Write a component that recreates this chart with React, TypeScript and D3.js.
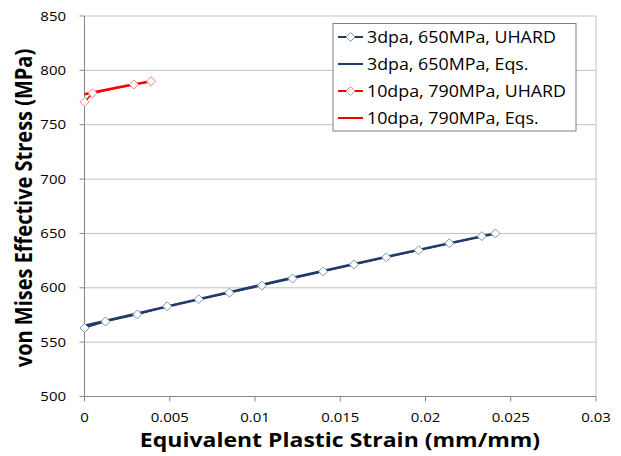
import React from "react";
import * as d3 from "d3";

// 3 dpa, 650 MPa
const blueUhardStrain = [0, 0.00123, 0.0031, 0.00485, 0.0067, 0.0085, 0.0104, 0.0122, 0.014, 0.0158, 0.0177, 0.0196, 0.0214, 0.0233, 0.0241];
const blueUhardStress = [563, 569, 575.5, 583, 589.5, 595.5, 602, 608.5, 615, 621.5, 628, 634.5, 641, 647.5, 650];
const blueEqsStrain = [0, 0.006, 0.012, 0.018, 0.0241];
const blueEqsStress = [565, 587, 608.5, 629.5, 650];

// 10 dpa, 790 MPa
const redUhardStrain = [0, 0.00047, 0.0029, 0.0039];
const redUhardStress = [771, 779, 787, 790];
const redEqsStrain = [0, 0.002, 0.0039];
const redEqsStress = [778, 784.5, 790];

const xTicks = [0, 0.005, 0.01, 0.015, 0.02, 0.025, 0.03];
const yTicks = [500, 550, 600, 650, 700, 750, 800, 850];

const legendLabels = ["3dpa, 650MPa, UHARD", "3dpa, 650MPa, Eqs.", "10dpa, 790MPa, UHARD", "10dpa, 790MPa, Eqs."];

const BLUE = "#1f3d6b";
const BLUE_MK = "#8094b4";
const RED = "#ff0000";
const RED_MK = "#ff8080";
const FONT = "'Open Sans', 'DejaVu Sans', sans-serif";
const SX = 1.15; // text in the source is a little stretched sideways

type Pt = [number, number];
const zip = (a: number[], b: number[]): Pt[] => a.map((v, i) => [v, b[i]]);

const Diamond = ({ x, y, stroke }: { x: number; y: number; stroke: string }) => (
  <path d={`M${x},${y - 4.5}L${x + 4.5},${y}L${x},${y + 4.5}L${x - 4.5},${y}Z`} fill="white" stroke={stroke} strokeWidth={1} />
);

const SText = (p: { x: number; y: number; size: number; anchor?: string; bold?: boolean; dy?: string; children: React.ReactNode }) => (
  <g transform={`translate(${p.x},${p.y}) scale(${SX},1)`}>
    <text textAnchor={p.anchor || "start"} dy={p.dy} fontFamily={FONT} fontSize={p.size} fontWeight={p.bold ? "bold" : "normal"} fill="#000">
      {p.children}
    </text>
  </g>
);

export default function App() {
  const width = 621, height = 456;
  const left = 84.5, right = 596, top = 16, bottom = 396.5;
  const x = d3.scaleLinear().domain([0, 0.03]).range([left, right]);
  const y = d3.scaleLinear().domain([500, 850]).range([bottom, top]);
  const line = d3.line<Pt>().x(d => x(d[0])).y(d => y(d[1]));

  const blueU = zip(blueUhardStrain, blueUhardStress);
  const blueE = zip(blueEqsStrain, blueEqsStress);
  const redU = zip(redUhardStrain, redUhardStress);
  const redE = zip(redEqsStrain, redEqsStress);

  const legend = [
    { color: BLUE, mk: BLUE_MK, marker: true },
    { color: BLUE, mk: BLUE_MK, marker: false },
    { color: RED, mk: RED_MK, marker: true },
    { color: RED, mk: RED_MK, marker: false },
  ];

  return (
    <svg width={width} height={height} style={{ position: "absolute", left: 0, top: 0, background: "white" }}>
      {/* gridlines */}
      {yTicks.filter(t => t !== 500).map(t => (
        <line key={t} x1={left} x2={right} y1={y(t)} y2={y(t)} stroke="#c0c0c0" strokeWidth={1} />
      ))}
      <line x1={right} x2={right} y1={top} y2={bottom} stroke="#c0c0c0" strokeWidth={1} />
      {/* axes */}
      <line x1={left} x2={left} y1={top} y2={bottom} stroke="#868686" strokeWidth={1} />
      <line x1={left} x2={right} y1={bottom} y2={bottom} stroke="#868686" strokeWidth={1} />
      {yTicks.map(t => (
        <g key={t}>
          <line x1={left - 5} x2={left} y1={y(t)} y2={y(t)} stroke="#868686" />
          <SText x={66} y={y(t)} dy="0.36em" anchor="end" size={13}>{t}</SText>
        </g>
      ))}
      {xTicks.map(t => (
        <g key={t}>
          <line x1={x(t)} x2={x(t)} y1={bottom} y2={bottom + 5} stroke="#868686" />
          <SText x={x(t)} y={421.5} anchor="middle" size={13}>{t}</SText>
        </g>
      ))}
      {/* series */}
      <path d={line(blueE) || ""} fill="none" stroke={BLUE} strokeWidth={2.5} />
      <path d={line(blueU) || ""} fill="none" stroke={BLUE} strokeWidth={1.5} />
      {blueU.map((d, i) => <Diamond key={i} x={x(d[0])} y={y(d[1])} stroke={BLUE_MK} />)}
      <path d={line(redE) || ""} fill="none" stroke={RED} strokeWidth={2.5} />
      <path d={line(redU) || ""} fill="none" stroke={RED} strokeWidth={1.5} />
      {redU.map((d, i) => <Diamond key={i} x={x(d[0])} y={y(d[1])} stroke={RED_MK} />)}
      {/* legend */}
      <rect x={333} y={23.5} width={243} height={107.5} fill="white" stroke="#7f7f7f" strokeWidth={1} />
      {legendLabels.map((lab, i) => {
        const ly = 37 + i * 27;
        const s = legend[i];
        return (
          <g key={lab}>
            <line x1={338} x2={363} y1={ly} y2={ly} stroke={s.color} strokeWidth={2} />
            {s.marker && <Diamond x={350.5} y={ly} stroke={s.mk} />}
            <SText x={367} y={ly} dy="0.36em" size={15.5}>{lab}</SText>
          </g>
        );
      })}
      {/* titles */}
      <SText x={340} y={447} anchor="middle" bold size={20}>
        Equivalent Plastic Strain (mm/mm)
      </SText>
      <g transform={`translate(32,${208}) rotate(-90) scale(1,1.2)`}>
        <text textAnchor="middle" fontFamily={FONT} fontWeight="bold" fontSize={20} fill="#000">
          von Mises Effective Stress (MPa)
        </text>
      </g>
    </svg>
  );
}
